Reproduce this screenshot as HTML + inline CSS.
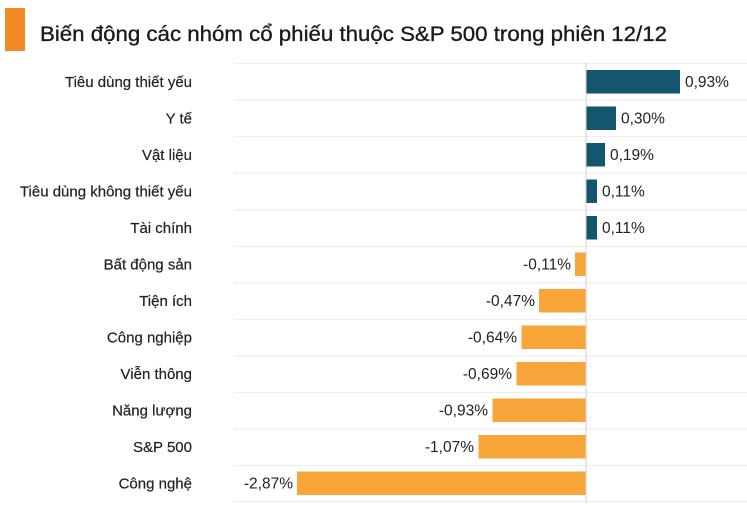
<!DOCTYPE html>
<html><head><meta charset="utf-8"><style>
html,body{margin:0;padding:0;background:#fff;}
svg{display:block;font-family:"Liberation Sans",sans-serif;}
</style></head><body>
<svg width="747" height="508" xmlns="http://www.w3.org/2000/svg">
<rect x="5" y="8" width="20" height="43" fill="#f28a25"/>
<text x="40" y="41" font-size="21" fill="#1a1a1a" stroke="#1a1a1a" stroke-width="0.35" textLength="627" lengthAdjust="spacingAndGlyphs">Biến động các nhóm cổ phiếu thuộc S&amp;P 500 trong phiên 12/12</text>
<g stroke="#eeeeee" stroke-width="1.2">
<line x1="234" x2="747" y1="63.5" y2="63.5"/><line x1="234" x2="747" y1="100" y2="100"/><line x1="234" x2="747" y1="136.5" y2="136.5"/><line x1="234" x2="747" y1="173" y2="173"/><line x1="234" x2="747" y1="210" y2="210"/><line x1="234" x2="747" y1="246.5" y2="246.5"/><line x1="234" x2="747" y1="283" y2="283"/><line x1="234" x2="747" y1="319.5" y2="319.5"/><line x1="234" x2="747" y1="356" y2="356"/><line x1="234" x2="747" y1="392.5" y2="392.5"/><line x1="234" x2="747" y1="429" y2="429"/><line x1="234" x2="747" y1="465.5" y2="465.5"/><line x1="234" x2="747" y1="501.5" y2="501.5"/>
</g>
<g fill="#145670">
<rect x="586" y="70" width="94" height="23.5"/>
<rect x="586" y="106.5" width="30" height="23.5"/>
<rect x="586" y="143" width="19" height="23.5"/>
<rect x="586" y="179.5" width="11" height="23.5"/>
<rect x="586" y="216" width="11" height="23.5"/>
</g>
<g fill="#f8a53a">
<rect x="575" y="252.5" width="11" height="23.5"/>
<rect x="539" y="289" width="47" height="23.5"/>
<rect x="521.5" y="325.5" width="64.5" height="23.5"/>
<rect x="516.5" y="362" width="69.5" height="23.5"/>
<rect x="492.5" y="398.5" width="93.5" height="23.5"/>
<rect x="478.5" y="435" width="107.5" height="23.5"/>
<rect x="297" y="471.5" width="289" height="23.5"/>
</g>
<line x1="586" x2="586" y1="63" y2="502" stroke="#cfcfcf" stroke-width="1"/>
<g font-size="15" fill="#222" text-anchor="end" stroke="#222" stroke-width="0.2">
<text x="192" y="87">Tiêu dùng thiết yếu</text>
<text x="192" y="123.5">Y tế</text>
<text x="192" y="160">Vật liệu</text>
<text x="192" y="196.5">Tiêu dùng không thiết yếu</text>
<text x="192" y="233">Tài chính</text>
<text x="192" y="269.5">Bất động sản</text>
<text x="192" y="306">Tiện ích</text>
<text x="192" y="342.5">Công nghiệp</text>
<text x="192" y="379">Viễn thông</text>
<text x="192" y="415.5">Năng lượng</text>
<text x="192" y="452">S&amp;P 500</text>
<text x="192" y="488.5">Công nghệ</text>
</g>
<g font-size="15.5" fill="#222" text-anchor="end">
<text x="571" y="269.5">-0,11%</text>
<text x="535" y="306">-0,47%</text>
<text x="517" y="342.5">-0,64%</text>
<text x="512" y="379">-0,69%</text>
<text x="488" y="415.5">-0,93%</text>
<text x="474" y="452">-1,07%</text>
<text x="293" y="488.5">-2,87%</text>
</g>
<g font-size="15.5" fill="#222">
<text x="685" y="87">0,93%</text>
<text x="621" y="123.5">0,30%</text>
<text x="610" y="160">0,19%</text>
<text x="602" y="196.5">0,11%</text>
<text x="602" y="233">0,11%</text>
</g>
</svg>
</body></html>
